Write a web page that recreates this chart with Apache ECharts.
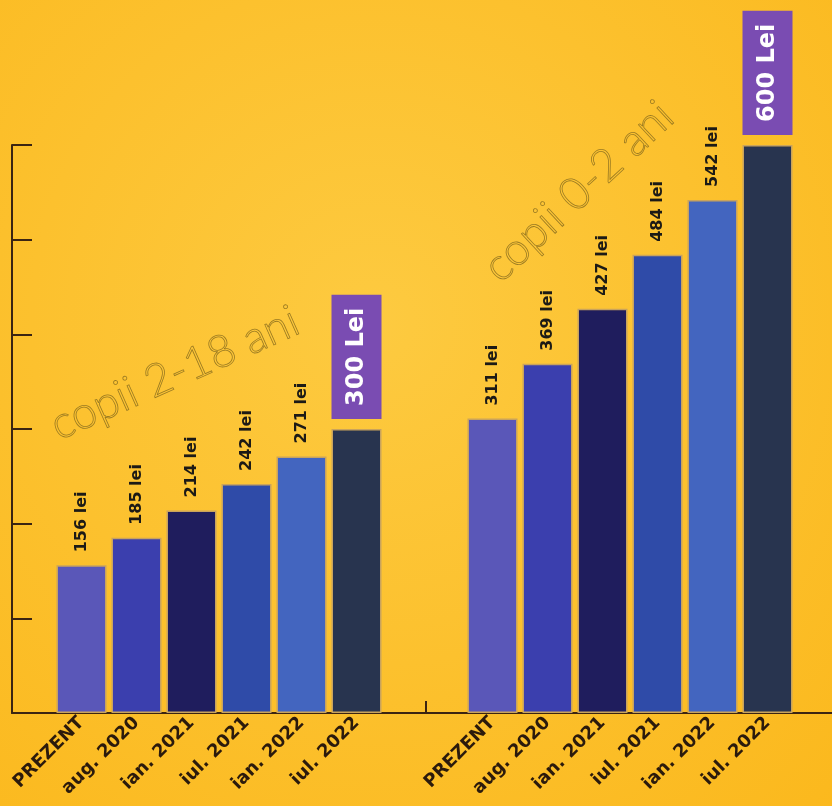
<!DOCTYPE html>
<html>
<head>
<meta charset="utf-8">
<script src="https://cdn.jsdelivr.net/npm/echarts@6/dist/echarts.min.js"></script>
<style>
html, body { margin: 0; padding: 0; }
#chart { width: 832px; height: 806px; }
</style>
</head>
<body>
<div id="chart"></div>
<script>
// categorii (aceleasi pentru ambele grupe)
const categories = ['PREZENT', 'aug. 2020', 'ian. 2021', 'iul. 2021', 'ian. 2022', 'iul. 2022'];
// alocatii copii 2-18 ani
const copii2_18 = [156, 185, 214, 242, 271, 300];
// alocatii copii 0-2 ani
const copii0_2 = [311, 369, 427, 484, 542, 600];
const groupTitles = ['copii 2-18 ani', 'copii 0-2 ani'];
const barColors = ['#5a57b8', '#3b3fae', '#1f1d5d', '#2f4ba8', '#4365bf', '#28344f'];
const yMax = 600;
const yStep = 100;

const axisColor = '#3b2412';

function buildData(values) {
    return values.map((v, i) => {
        let item = {
            value: v,
            itemStyle: { color: barColors[i] }
        };
        if (i === values.length - 1) {
            item.label = {
                formatter: '{c} Lei',
                color: '#ffffff',
                fontFamily: 'DejaVu Sans',
                fontWeight: 'bold',
                fontSize: 24,
                lineHeight: 24,
                backgroundColor: '#7a4cb2',
                padding: [13, 13, 13, 13],
                distance: 10
            };
        }
        return item;
    });
}

const valueLabel = {
    show: true,
    position: 'top',
    rotate: 90,
    align: 'left',
    verticalAlign: 'middle',
    distance: 13,
    formatter: '{c} lei',
    color: '#1c1a16',
    fontFamily: 'DejaVu Sans',
    fontWeight: 'bold',
    fontSize: 16
};

const catAxis = (idx) => ({
    type: 'category',
    gridIndex: idx,
    data: categories,
    axisLine: { show: false },
    axisTick: { show: false },
    axisLabel: {
        interval: 0,
        rotate: 45,
        margin: 7,
        color: '#2b1a0c',
        fontFamily: 'DejaVu Sans',
        fontWeight: 'bold',
        fontSize: 18
    }
});

const hiddenY = (idx) => ({
    type: 'value',
    gridIndex: idx,
    min: 0,
    max: yMax,
    show: false
});

const option = {
    backgroundColor: new echarts.graphic.RadialGradient(0.45, 0.4, 0.85, [
        { offset: 0, color: '#fdca40' },
        { offset: 1, color: '#fbb81c' }
    ]),
    animation: false,
    grid: [
        { left: 12, right: 0, top: 145, bottom: 93 },
        { left: 54, width: 330, top: 145, bottom: 93 },
        { left: 465, width: 330, top: 145, bottom: 93 }
    ],
    xAxis: [
        {
            // doar linia de baza + semnul dintre cele doua grupe
            type: 'value',
            gridIndex: 0,
            min: 0,
            max: 2,
            interval: 1,
            axisLine: { show: true, lineStyle: { color: axisColor, width: 2 } },
            axisTick: { show: true, customValues: [1.01], inside: true, length: 12, lineStyle: { color: axisColor, width: 2 } },
            axisLabel: { show: false },
            splitLine: { show: false }
        },
        catAxis(1),
        catAxis(2)
    ],
    yAxis: [
        {
            type: 'value',
            gridIndex: 0,
            min: 0,
            max: yMax,
            interval: yStep,
            axisLine: { show: true, lineStyle: { color: axisColor, width: 2 } },
            axisTick: { show: true, inside: true, length: 20, lineStyle: { color: axisColor, width: 2 } },
            axisLabel: { show: false },
            splitLine: { show: false }
        },
        hiddenY(1),
        hiddenY(2)
    ],
    series: [
        {
            name: groupTitles[0],
            type: 'bar',
            xAxisIndex: 1,
            yAxisIndex: 1,
            barWidth: 50,
            itemStyle: { borderColor: '#c9a35c', borderWidth: 1.5 },
            label: valueLabel,
            data: buildData(copii2_18)
        },
        {
            name: groupTitles[1],
            type: 'bar',
            xAxisIndex: 2,
            yAxisIndex: 2,
            barWidth: 50,
            itemStyle: { borderColor: '#c9a35c', borderWidth: 1.5 },
            label: valueLabel,
            data: buildData(copii0_2)
        }
    ],
    graphic: [
        {
            type: 'text',
            x: 62,
            y: 448,
            rotation: 24 * Math.PI / 180,
            style: {
                text: groupTitles[0],
                font: '300 45px Lato',
                fill: 'rgba(0,0,0,0)',
                stroke: '#9a7a22',
                lineWidth: 0.8,
                align: 'left',
                verticalAlign: 'bottom'
            }
        },
        {
            type: 'text',
            x: 506,
            y: 290,
            rotation: 43 * Math.PI / 180,
            style: {
                text: groupTitles[1],
                font: '300 45px Lato',
                fill: 'rgba(0,0,0,0)',
                stroke: '#9a7a22',
                lineWidth: 0.8,
                align: 'left',
                verticalAlign: 'bottom'
            }
        }
    ]
};

const myChart = echarts.init(document.getElementById('chart'));
myChart.setOption(option);
</script>
</body>
</html>
